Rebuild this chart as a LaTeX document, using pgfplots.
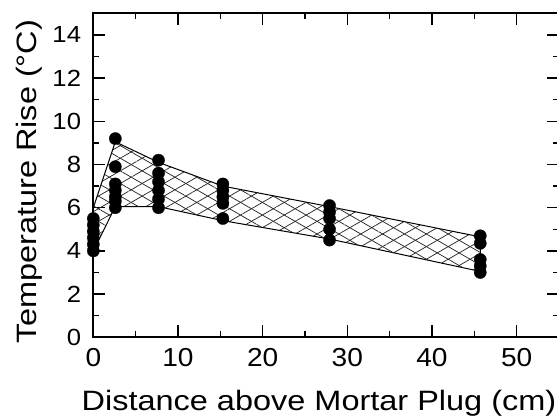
\documentclass[border=0pt]{standalone}
\usepackage{fontspec}
\setmainfont{Liberation Sans}
\usepackage{pgfplots}
\pgfplotsset{compat=1.18}
\usetikzlibrary{patterns.meta}
\begin{document}
\begin{tikzpicture}
\begin{axis}[
  scale only axis, width=349.3pt, height=243pt,
  xmin=0, xmax=55, ymin=0, ymax=15,
  xtick={0,10,...,50}, ytick={0,2,...,14},
  minor x tick num=1, minor y tick num=1,
  tick align=inside,
  major tick length=9pt, minor tick length=4.5pt,
  every tick/.style={black, line width=1pt},
  axis line style={line width=1.5pt},
  /pgf/number format/assume math mode=true,
  yticklabel style={font=\fontsize{17.5}{20}\selectfont, anchor=east, inner sep=0pt, xshift=-9pt, xscale=1.1},
  xticklabel style={font=\fontsize{19.5}{22}\selectfont, anchor=north, inner sep=0pt, yshift=-8pt, xscale=1.08},
  xlabel={Distance above Mortar Plug (cm)},
  ylabel={Temperature Rise (°C)},
  xlabel style={font=\fontsize{21}{24}\selectfont, at={(axis description cs:0.4846,-0.2265)}, anchor=base, inner sep=0pt, xscale=1.16},
  ylabel style={font=\fontsize{21}{24}\selectfont, at={(axis description cs:-0.1085,0.481)}, anchor=south, inner sep=0pt, xscale=1.16},
  clip=false,
]
\addplot[draw=black, line width=0.75pt, pattern={Lines[angle=30,distance=8.2pt,line width=0.55pt]}, pattern color=black!85] coordinates {
 (0,6.0) (2.6,9.05) (7.7,8.1) (15.3,7.0) (27.9,6.05) (45.7,4.65)
 (45.7,3.05) (27.9,4.55) (15.3,5.4) (7.7,6.05) (2.6,6.05) (0,4.0)} --cycle;
\addplot[draw=none, pattern={Lines[angle=-30,distance=8.2pt,line width=0.55pt]}, pattern color=black!85] coordinates {
 (0,6.0) (2.6,9.05) (7.7,8.1) (15.3,7.0) (27.9,6.05) (45.7,4.65)
 (45.7,3.05) (27.9,4.55) (15.3,5.4) (7.7,6.05) (2.6,6.05) (0,4.0)} --cycle;
\addplot[only marks, mark=*, mark size=4.6pt, black, mark options={fill=black, draw=black, line width=0.2pt}] coordinates {
 (0,4.0) (0,4.3) (0,4.6) (0,4.9) (0,5.2) (0,5.5)
 (2.6,9.2) (2.6,7.9) (2.6,7.1) (2.6,6.8) (2.6,6.5) (2.6,6.3) (2.6,6.0)
 (7.7,8.2) (7.7,7.6) (7.7,7.2) (7.7,6.8) (7.7,6.4) (7.7,6.0)
 (15.3,7.1) (15.3,6.8) (15.3,6.5) (15.3,6.2) (15.3,5.5)
 (27.9,6.1) (27.9,5.8) (27.9,5.5) (27.9,5.0) (27.9,4.5)
 (45.7,4.7) (45.7,4.35) (45.7,3.6) (45.7,3.3) (45.7,3.0)};
\coordinate (ll) at (rel axis cs:0,0);
\coordinate (ur) at (rel axis cs:1,1);
\end{axis}
\pgfresetboundingbox
\path[use as bounding box] ([shift={(-70pt,-59.8pt)}]ll) rectangle ([shift={(-1.5pt,10pt)}]ur);
\end{tikzpicture}
\end{document}
